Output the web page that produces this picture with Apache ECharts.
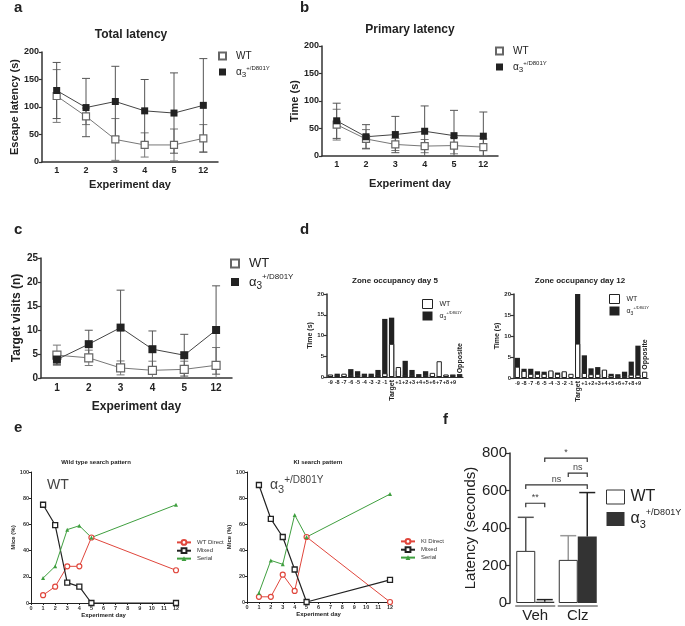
<!DOCTYPE html>
<html><head><meta charset="utf-8">
<script src="https://cdn.jsdelivr.net/npm/echarts@6/dist/echarts.min.js"></script>
<style>html,body{margin:0;padding:0;background:#fff}#c{width:685px;height:626px}</style>
</head><body><div id="c"></div>
<script>
// ---------- data ----------
const days = ['1', '2', '3', '4', '5', '12'];
const wtTotal = [120, 83, 41, 31, 31, 43];
const wtTotalErr = [48, 15, 38, 22, 29, 25];
const kiTotal = [130, 99, 110, 93, 89, 103];
const kiTotalErr = [51, 53, 64, 57, 73, 85];

const wtPrimary = [57, 31, 21, 18, 19, 16];
const wtPrimaryErr = [28, 17, 11, 12, 15, 15];
const kiPrimary = [64, 35, 39, 45, 37, 36];
const kiPrimaryErr = [32, 22, 33, 46, 46, 44];

const wtVisits = [4.75, 4.2, 2.1, 1.6, 1.8, 2.65];
const wtVisitsErr = [2.1, 1.6, 1.45, 1.9, 1.7, 3.7];
const kiVisits = [3.85, 7.05, 10.5, 6.0, 4.75, 10.0];
const kiVisitsErr = [1.0, 2.9, 7.8, 3.8, 4.35, 9.2];

const zones = ['-9','-8','-7','-6','-5','-4','-3','-2','-1','Target','+1','+2','+3','+4','+5','+6','+7','+8','+9','Opposite'];
const wtDay5 = [0.6, 0.5, 0.8, 0.4, 0.5, 0.4, 0.4, 0.5, 0.9, 8.0, 2.4, 0.5, 0.4, 0.3, 0.4, 1.0, 3.8, 0.6, 0.5, 0.4];
const kiDay5 = [0.5, 0.8, 0.5, 1.9, 1.4, 0.8, 0.8, 1.7, 14.0, 14.3, 1.5, 3.9, 1.7, 0.7, 1.4, 0.5, 0.3, 0.5, 0.6, 0.7];
const wtDay12 = [2.7, 1.7, 1.0, 1.0, 1.0, 1.8, 1.0, 1.6, 1.0, 8.2, 1.2, 0.9, 1.0, 2.0, 0.6, 0.5, 0.5, 0.8, 0.8, 1.5];
const kiDay12 = [4.8, 2.2, 2.2, 1.6, 1.5, 1.5, 1.3, 1.3, 0, 20, 5.4, 2.3, 2.6, 1.8, 1.0, 0.9, 1.5, 3.9, 7.7, 0];

const searchDays = [1, 2, 3, 4, 5, 12];
const wtDirect = [6, 12.5, 28, 28, 50, 25];
const wtMixed = [75, 59.5, 15.5, 12.5, 0, 0];
const wtSerial = [19, 28, 56, 59, 50, 75];
const kiDirect = [4, 4, 21, 8.5, 50, 0];
const kiMixed = [90, 64, 50, 25, 0, 17];
const kiSerial = [7, 32, 29, 67, 50, 83];

const fGroups = ['Veh', 'Clz'];
const fWT = [278, 230];
const fWTErr = [179, 129];
const fKI = [7, 355];
const fKIErr = [11, 234];
// brackets: [cat1, bar1, cat2, bar2, y]
const sigBrackets = [[0, 0, 0, 1, 532], [0, 0, 1, 1, 630], [1, 0, 1, 1, 693], [0, 1, 1, 1, 773]];
const sigTexts = ['**', 'ns', 'ns', '*'];

// ---------- style helpers ----------
const FONT = '"Liberation Sans", Arial, Helvetica, sans-serif';
const TXT = '#222';
const AXC = '#333';
const RED = '#e0463c';
const GREEN = '#3f9f3f';

function alphaRich(s, subR, supR, color) {
  const c = color || TXT;
  return {
    a: {fontSize: s, fontWeight: 'normal', lineHeight: Math.round(s * 1.4), fontFamily: FONT, color: c},
    sub: {fontSize: Math.round(s * (subR || 0.75)), fontWeight: 'normal', verticalAlign: 'bottom', fontFamily: FONT, color: c},
    sup: {fontSize: Math.round(s * (supR || 0.62)), fontWeight: 'normal', verticalAlign: 'top', fontFamily: FONT, color: c}
  };
}
const alphaText = '{a|α}{sub|3}{sup|+/D801Y}';
const legendFmt = n => n.indexOf('wt') === 0 ? 'WT' : alphaText;

function catX(grid, data, fs, margin) {
  return {
    gridIndex: grid, type: 'category', data: data,
    axisLine: {lineStyle: {color: AXC, width: 1.5}},
    axisTick: {alignWithLabel: true, length: 3, lineStyle: {color: AXC, width: 1.2}},
    axisLabel: {fontSize: fs, fontWeight: 'bold', color: TXT, fontFamily: FONT, margin: margin, interval: 0}
  };
}
function valY(grid, max, interval, fs, name, nameGap, nameFs) {
  return {
    gridIndex: grid, type: 'value', min: 0, max: max, interval: interval,
    splitLine: {show: false},
    axisLine: {show: true, lineStyle: {color: AXC, width: 1.5}},
    axisTick: {show: true, length: 3, lineStyle: {color: AXC, width: 1.2}},
    axisLabel: {fontSize: fs, fontWeight: 'bold', color: TXT, fontFamily: FONT, margin: 3},
    name: name, nameLocation: 'middle', nameGap: nameGap, nameRotate: 90,
    nameTextStyle: {fontSize: nameFs, fontWeight: 'bold', color: TXT, fontFamily: FONT}
  };
}
function errSeries(xi, yi, means, errs, color, cap) {
  return {
    type: 'custom', xAxisIndex: xi, yAxisIndex: yi, silent: true, z: 1,
    data: means.map((m, i) => [i, m, errs[i]]),
    encode: {x: 0, y: 1},
    renderItem: function (params, api) {
      const x = api.value(0), m = api.value(1), e = api.value(2);
      const top = api.coord([x, m + e]);
      const lowV = Math.max(m - e, 0);
      const bot = api.coord([x, lowV]);
      const st = {stroke: color, lineWidth: 1};
      const ch = [
        {type: 'line', shape: {x1: top[0], y1: top[1], x2: bot[0], y2: bot[1]}, style: st},
        {type: 'line', shape: {x1: top[0] - cap, y1: top[1], x2: top[0] + cap, y2: top[1]}, style: st}
      ];
      if (m - e > 0) ch.push({type: 'line', shape: {x1: bot[0] - cap, y1: bot[1], x2: bot[0] + cap, y2: bot[1]}, style: st});
      return {type: 'group', children: ch};
    }
  };
}
function meanLine(name, xi, yi, vals, open, size) {
  return {
    type: 'line', name: name, xAxisIndex: xi, yAxisIndex: yi, data: vals, z: 3,
    symbol: 'rect', symbolSize: size,
    itemStyle: open ? {color: '#fff', borderColor: '#666', borderWidth: 1.2} : {color: '#222'},
    lineStyle: {color: open ? '#777' : '#444', width: 1},
    emphasis: {disabled: true}
  };
}
function smallLegend(left, top, names, size, fs, gap) {
  return {
    left: left, top: top, orient: 'vertical', padding: 0, itemGap: gap,
    itemWidth: size, itemHeight: size, selectedMode: false,
    data: names.map(n => ({name: n, icon: 'rect'})),
    formatter: legendFmt,
    textStyle: {fontSize: fs, color: TXT, fontFamily: FONT, padding: [0, 0, 0, 5], rich: alphaRich(fs)}
  };
}
function searchSeries(name, xi, yi, vals, kind) {
  const base = {type: 'line', name: name, xAxisIndex: xi, yAxisIndex: yi,
    data: searchDays.map((d, i) => [d, vals[i]]), emphasis: {disabled: true}};
  if (kind === 'direct') return Object.assign(base, {symbol: 'circle', symbolSize: 5,
    itemStyle: {color: '#fff', borderColor: RED, borderWidth: 1.2}, lineStyle: {color: RED, width: 1}});
  if (kind === 'mixed') return Object.assign(base, {symbol: 'rect', symbolSize: 5,
    itemStyle: {color: '#fff', borderColor: '#222', borderWidth: 1.3}, lineStyle: {color: '#222', width: 1.2}});
  return Object.assign(base, {symbol: 'triangle', symbolSize: 4,
    itemStyle: {color: GREEN}, lineStyle: {color: GREEN, width: 1}});
}
function eX(grid) {
  return {gridIndex: grid, type: 'value', min: 0, max: 12, interval: 1,
    splitLine: {show: false},
    axisLine: {lineStyle: {color: '#222', width: 1}},
    axisTick: {length: 2, lineStyle: {color: '#222'}},
    axisLabel: {fontSize: 5.5, fontWeight: 'bold', color: '#333', fontFamily: FONT, margin: 2},
    name: 'Experiment day', nameLocation: 'middle', nameGap: 9,
    nameTextStyle: {fontSize: 6, fontWeight: 'bold', color: '#222', fontFamily: FONT}};
}
function eY(grid, gap) {
  return {gridIndex: grid, type: 'value', min: 0, max: 100, interval: 20,
    splitLine: {show: false},
    axisLine: {show: true, lineStyle: {color: '#222', width: 1}},
    axisTick: {show: true, length: 2, lineStyle: {color: '#222'}},
    axisLabel: {fontSize: 5.5, fontWeight: 'bold', color: '#333', fontFamily: FONT, margin: 2},
    name: 'Mice (%)', nameLocation: 'middle', nameGap: gap, nameRotate: 90,
    nameTextStyle: {fontSize: 6, fontWeight: 'bold', color: '#222', fontFamily: FONT}};
}
function zoneBars(xi, yi, wt, ki) {
  return [
    {type: 'bar', name: 'ki_' + xi, xAxisIndex: xi, yAxisIndex: yi, data: ki,
      barGap: '-100%', barCategoryGap: '22%', itemStyle: {color: '#222'}, emphasis: {disabled: true}},
    {type: 'bar', name: 'wt_' + xi, xAxisIndex: xi, yAxisIndex: yi,
      data: wt.map((v, i) => zones[i] === 'Opposite' ? {value: v, label: {show: true, formatter: 'Opposite',
        position: 'top', rotate: 90, align: 'left', verticalAlign: 'middle', distance: 2,
        fontSize: 7, fontWeight: 'bold', color: TXT, fontFamily: FONT}} : v),
      barGap: '-100%', barCategoryGap: '22%',
      itemStyle: {color: '#fff', borderColor: '#222', borderWidth: 1}, emphasis: {disabled: true}}
  ];
}
function zoneX(grid) {
  const ax = catX(grid, zones, 5.5, 2);
  ax.axisLabel.formatter = v => (v === 'Target' || v === 'Opposite') ? '' : v;
  ax.axisTick.length = 2;
  ax.axisLine.lineStyle.width = 1.2;
  return ax;
}
function targetX(grid) {
  return {gridIndex: grid, type: 'category', data: zones, position: 'bottom',
    axisLine: {show: false}, axisTick: {show: false},
    axisLabel: {interval: 0, rotate: 90, margin: 3, fontSize: 7, fontWeight: 'bold', color: TXT, fontFamily: FONT,
      formatter: v => v === 'Target' ? 'Target' : ''}};
}
function zoneLegend(left, top, xi) {
  return {left: left, top: top, orient: 'vertical', padding: 0, itemGap: 2,
    itemWidth: 10, itemHeight: 9, selectedMode: false,
    data: [{name: 'wt_' + xi, icon: 'rect', itemStyle: {color: '#fff', borderColor: '#222', borderWidth: 1}},
           {name: 'ki_' + xi, icon: 'rect', itemStyle: {color: '#222'}}],
    formatter: legendFmt,
    textStyle: {fontSize: 7, color: TXT, fontFamily: FONT, padding: [0, 0, 0, 2], rich: alphaRich(7)}};
}
function tTitle(text, left, top, fs, opts) {
  return Object.assign({text: text, left: left, top: top, padding: 0, textAlign: 'left',
    textStyle: {fontSize: fs, fontWeight: 'bold', color: TXT, fontFamily: FONT}}, opts || {});
}

// ---------- option ----------
const option = {
  animation: false,
  backgroundColor: '#fff',
  title: [
    tTitle('a', 14, 0, 15),
    tTitle('Total latency', 131, 29, 12, {textAlign: 'center'}),
    tTitle('b', 300, 0, 15),
    tTitle('Primary latency', 410, 24, 12, {textAlign: 'center'}),
    tTitle('c', 14, 222, 15),
    tTitle('d', 300, 222, 15),
    tTitle('Zone occupancy day 5', 395, 277, 8, {textAlign: 'center'}),
    tTitle('Zone occupancy day 12', 580, 277, 8, {textAlign: 'center'}),
    tTitle('e', 14, 420, 15),
    tTitle('Wild type search pattern', 96, 459, 6, {textAlign: 'center'}),
    tTitle('KI search pattern', 318, 459, 6, {textAlign: 'center'}),
    {text: 'WT', left: 47, top: 478, padding: 0,
      textStyle: {fontSize: 14, fontWeight: 'normal', color: '#444', fontFamily: FONT}},
    {text: alphaText, left: 270, top: 475, padding: 0,
      textStyle: {fontSize: 14, fontWeight: 'normal', color: '#444', fontFamily: FONT, rich: alphaRich(14, 0.75, 0.7, '#444')}},
    tTitle('f', 443, 412, 15)
  ],
  grid: [
    {left: 42, top: 52, width: 176, height: 110},
    {left: 322, top: 46, width: 176, height: 110},
    {left: 41, top: 258, width: 191, height: 120},
    {left: 327, top: 294, width: 136, height: 83},
    {left: 514, top: 294, width: 134, height: 84},
    {left: 31, top: 472, width: 145, height: 131},
    {left: 247, top: 472, width: 143, height: 130},
    {left: 514, top: 453, width: 85, height: 150}
  ],
  xAxis: [
    Object.assign(catX(0, days, 9, 4), {name: 'Experiment day', nameLocation: 'middle', nameGap: 17,
      nameTextStyle: {fontSize: 11, fontWeight: 'bold', color: TXT, fontFamily: FONT}}),
    Object.assign(catX(1, days, 9, 4), {name: 'Experiment day', nameLocation: 'middle', nameGap: 22,
      nameTextStyle: {fontSize: 11, fontWeight: 'bold', color: TXT, fontFamily: FONT}}),
    Object.assign(catX(2, days, 10, 5), {name: 'Experiment day', nameLocation: 'middle', nameGap: 23,
      nameTextStyle: {fontSize: 12, fontWeight: 'bold', color: TXT, fontFamily: FONT}}),
    zoneX(3), targetX(3),
    zoneX(4), targetX(4),
    eX(5), eX(6),
    {gridIndex: 7, type: 'category', data: fGroups,
      axisLine: {show: false}, axisTick: {show: false},
      axisLabel: {fontSize: 15, color: TXT, fontFamily: FONT, margin: 5}}
  ],
  yAxis: [
    valY(0, 200, 50, 9, 'Escape latency (s)', 19, 11),
    valY(1, 200, 50, 9, 'Time (s)', 21, 11),
    valY(2, 25, 5, 10, 'Target visits (n)', 17, 12),
    valY(3, 20, 5, 6, 'Time (s)', 10, 7),
    valY(4, 20, 5, 6, 'Time (s)', 11, 7),
    eY(5, 15), eY(6, 13),
    {gridIndex: 7, type: 'value', min: 0, max: 800, interval: 200, offset: 4,
      splitLine: {show: false},
      axisLine: {show: true, lineStyle: {color: AXC, width: 1.5}},
      axisTick: {show: true, length: 4, lineStyle: {color: AXC, width: 1.2}},
      axisLabel: {fontSize: 15, color: TXT, fontFamily: FONT, margin: 3},
      name: 'Latency (seconds)', nameLocation: 'middle', nameGap: 30, nameRotate: 90,
      nameTextStyle: {fontSize: 15, color: TXT, fontFamily: FONT}}
  ],
  legend: [
    smallLegend(218, 51, ['wt_a', 'ki_a'], 7, 10, 4),
    smallLegend(495, 46, ['wt_b', 'ki_b'], 7, 10, 4),
    smallLegend(230, 257, ['wt_c', 'ki_c'], 8, 13, 3),
    zoneLegend(422, 299, 3),
    zoneLegend(609, 294, 5),
    {left: 176, top: 539, orient: 'vertical', padding: 0, itemGap: 1.5, itemWidth: 14, itemHeight: 6,
      selectedMode: false, data: ['WT Direct', 'Mixed', 'Serial'],
      textStyle: {fontSize: 6, color: '#333', fontFamily: FONT, padding: [0, 0, 0, 1]}},
    {left: 400, top: 538, orient: 'vertical', padding: 0, itemGap: 1.5, itemWidth: 14, itemHeight: 6,
      selectedMode: false, data: ['KI Direct', 'Mixed', 'Serial'],
      textStyle: {fontSize: 6, color: '#333', fontFamily: FONT, padding: [0, 0, 0, 1]}},
    {left: 606, top: 489, orient: 'vertical', padding: 0, itemGap: 3, itemWidth: 18, itemHeight: 14,
      selectedMode: false,
      data: [{name: 'wt_f', icon: 'rect', itemStyle: {color: '#fff', borderColor: '#333', borderWidth: 1}},
             {name: 'ki_f', icon: 'rect', itemStyle: {color: '#333'}}],
      formatter: legendFmt,
      textStyle: {fontSize: 16, color: TXT, fontFamily: FONT, padding: [0, 0, 0, 1], rich: alphaRich(16, 0.68, 0.55)}}
  ],
  series: [
    // a
    errSeries(0, 0, wtTotal, wtTotalErr, '#777', 4),
    errSeries(0, 0, kiTotal, kiTotalErr, '#555', 4),
    meanLine('wt_a', 0, 0, wtTotal, true, 7),
    meanLine('ki_a', 0, 0, kiTotal, false, 7),
    // b
    errSeries(1, 1, wtPrimary, wtPrimaryErr, '#777', 4),
    errSeries(1, 1, kiPrimary, kiPrimaryErr, '#555', 4),
    meanLine('wt_b', 1, 1, wtPrimary, true, 7),
    meanLine('ki_b', 1, 1, kiPrimary, false, 7),
    // c
    errSeries(2, 2, wtVisits, wtVisitsErr, '#777', 4),
    errSeries(2, 2, kiVisits, kiVisitsErr, '#555', 4),
    meanLine('wt_c', 2, 2, wtVisits, true, 8),
    meanLine('ki_c', 2, 2, kiVisits, false, 8),
    // d
    ...zoneBars(3, 3, wtDay5, kiDay5),
    ...zoneBars(5, 4, wtDay12, kiDay12),
    // e
    searchSeries('WT Direct', 7, 5, wtDirect, 'direct'),
    searchSeries('Mixed', 7, 5, wtMixed, 'mixed'),
    searchSeries('Serial', 7, 5, wtSerial, 'serial'),
    searchSeries('KI Direct', 8, 6, kiDirect, 'direct'),
    searchSeries('Mixed', 8, 6, kiMixed, 'mixed'),
    searchSeries('Serial', 8, 6, kiSerial, 'serial'),
    // f
    {type: 'bar', name: 'wt_f', xAxisIndex: 9, yAxisIndex: 7, data: fWT, barWidth: 19, barGap: '0%',
      itemStyle: {color: '#fff', borderColor: '#333', borderWidth: 1}, emphasis: {disabled: true}, z: 2},
    {type: 'bar', name: 'ki_f', xAxisIndex: 9, yAxisIndex: 7, data: fKI, barWidth: 19, barGap: '0%',
      itemStyle: {color: '#333'}, emphasis: {disabled: true}, z: 2},
    {type: 'custom', xAxisIndex: 9, yAxisIndex: 7, silent: true, z: 1,
      data: fWT.map((v, i) => [i, v, fWTErr[i], 0]).concat(fKI.map((v, i) => [i, v, fKIErr[i], 1])),
      encode: {x: 0, y: 1},
      renderItem: function (params, api) {
        const c = api.value(0), m = api.value(1), e = api.value(2), s = api.value(3);
        const dx = s ? 9.5 : -9.5;
        const p0 = api.coord([c, m]), p1 = api.coord([c, m + e]);
        const x = p0[0] + dx;
        const col = s ? '#222' : (c === 0 ? '#555' : '#999');
        return {type: 'group', children: [
          {type: 'line', shape: {x1: x, y1: p0[1], x2: x, y2: p1[1]}, style: {stroke: col, lineWidth: 1.5}},
          {type: 'line', shape: {x1: x - 8, y1: p1[1], x2: x + 8, y2: p1[1]}, style: {stroke: col, lineWidth: 1.5}}
        ]};
      }},
    {type: 'custom', xAxisIndex: 9, yAxisIndex: 7, silent: true, z: 3,
      data: fGroups.map((g, i) => [i, 0]),
      encode: {x: 0, y: 1},
      renderItem: function (params, api) {
        const p = api.coord([api.value(0), 0]);
        return {type: 'line', shape: {x1: p[0] - 20, y1: p[1] + 3, x2: p[0] + 20, y2: p[1] + 3},
          style: {stroke: '#999', lineWidth: 2}};
      }},
    {type: 'custom', xAxisIndex: 9, yAxisIndex: 7, silent: true, z: 3,
      data: sigBrackets, encode: {x: 0, y: 4},
      renderItem: function (params, api) {
        const c1 = api.value(0), s1 = api.value(1), c2 = api.value(2), s2 = api.value(3), y = api.value(4);
        const p1 = api.coord([c1, y]), p2 = api.coord([c2, y]);
        const x1 = p1[0] + (s1 ? 9.5 : -9.5), x2 = p2[0] + (s2 ? 9.5 : -9.5);
        const yy = p1[1];
        const st = {stroke: '#333', lineWidth: 1.2, fill: null};
        return {type: 'group', children: [
          {type: 'polyline', shape: {points: [[x1, yy + 4], [x1, yy], [x2, yy], [x2, yy + 4]]}, style: st},
          {type: 'text', style: {text: sigTexts[params.dataIndex], x: (x1 + x2) / 2, y: yy - 1,
            align: 'center', verticalAlign: 'bottom', fontSize: 9, fill: '#444', fontFamily: FONT}}
        ]};
      }}
  ]
};

const chart = echarts.init(document.getElementById('c'), null, {renderer: 'canvas'});
chart.setOption(option);
</script>
</body></html>
